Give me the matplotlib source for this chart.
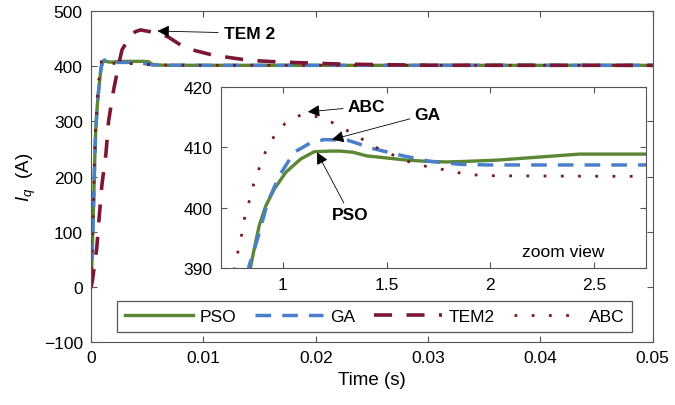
import numpy as np
import matplotlib.pyplot as plt

plt.rcParams['font.family'] = ['Liberation Sans', 'DejaVu Sans']
plt.rcParams['mathtext.fontset'] = 'custom'
plt.rcParams['mathtext.it'] = 'Liberation Sans:italic'
plt.rcParams['mathtext.rm'] = 'Liberation Sans'

# time in ms, current in A
t_pso = [0, 0.1, 0.2, 0.3, 0.4, 0.55, 0.7, 0.845, 0.861, 0.885, 0.917, 0.958, 1.014,
         1.086, 1.151, 1.231, 1.275, 1.339, 1.404, 1.516, 1.597, 1.694, 1.79, 1.887,
         2.032, 2.43, 2.76, 3.5, 4.5, 5.1, 5.5, 6.5, 10, 20, 50]
i_pso = [0, 65, 135, 215, 280, 330, 363, 390.4, 393.1, 397.0, 400.3, 403.1, 405.9,
         408.1, 409.3, 409.4, 409.4, 409.2, 408.6, 408.2, 407.9, 407.7, 407.6, 407.7,
         407.9, 408.9, 408.9, 409, 409, 408.5, 403, 402, 401.8, 401.8, 401.8]

t_ga = [0, 0.1, 0.2, 0.3, 0.4, 0.55, 0.7, 0.837, 0.877, 0.926, 0.982, 1.054, 1.135,
        1.2, 1.312, 1.436, 1.581, 1.71, 1.855, 1.99, 2.76, 3.5, 4.5, 5.0, 5.5, 6.5, 10, 50]
i_ga = [0, 65, 135, 215, 280, 330, 363, 390.4, 394.8, 400.9, 405.3, 409.2, 410.8,
        411.3, 411.2, 409.8, 408.6, 407.7, 407.2, 407.1, 407.1, 407, 406, 404, 402.5, 402,
        401.8, 401.8]

t_tem2 = [0, 0.12, 0.5, 0.72, 0.96, 1.32, 1.55, 2.0, 2.45, 2.75, 3.5, 3.95, 4.4, 5.2,
          6.8, 8.4, 10.9, 14, 16.6, 22.3, 30, 50]
i_tem2 = [0, 12, 70, 127, 185, 242, 300, 357, 403, 430, 455, 463, 466, 463,
          454, 433, 420, 411, 408, 404, 402, 401.8]

t_abc = [0, 0.1, 0.2, 0.3, 0.4, 0.55, 0.68, 0.768, 0.784, 0.801, 0.816, 0.839, 0.859,
         0.887, 0.917, 0.958, 1.011, 1.086, 1.167, 1.247, 1.32, 1.391, 1.465, 1.541,
         1.616, 1.698, 1.781, 1.862, 1.942, 2.028, 2.76, 3.5, 4.5, 6, 10, 50]
i_abc = [0, 70, 145, 225, 290, 345, 374, 390.1, 392.9, 395.6, 398.5, 401.3, 404.0,
         406.7, 409.4, 411.9, 414.0, 415.4, 415.1, 414.0, 412.6, 411.2, 409.7, 408.6,
         407.5, 406.8, 406.3, 405.7, 405.4, 405.3, 405.2, 405, 404, 402.5, 401.8, 401.8]

xticks_main = [0, 0.01, 0.02, 0.03, 0.04, 0.05]
xlabels_main = ['0', '0.01', '0.02', '0.03', '0.04', '0.05']
yticks_main = [-100, 0, 100, 200, 300, 400, 500]
xticks_zoom = [1, 1.5, 2, 2.5]
xlabels_zoom = ['1', '1.5', '2', '2.5']
yticks_zoom = [390, 400, 410, 420]

c_pso = '#5b8633'
c_ga = '#4a7fc9'
c_tem2 = '#7d1636'
c_abc = '#7a1b1b'
spine_c = '#555555'

sty_pso = dict(color=c_pso, lw=2.4, ls='-')
sty_ga = dict(color=c_ga, lw=2.5, ls=(0, (4.5, 3.2)))
sty_tem2 = dict(color=c_tem2, lw=2.6, ls=(0, (5, 4)))
sty_abc = dict(color=c_abc, lw=2.0, ls=(0, (1, 5.2)))

fig = plt.figure(figsize=(6.75, 4.06), dpi=100)
ax = fig.add_axes([0.135, 0.155, 0.832, 0.815])

s = lambda t: np.array(t) / 1000.0
ax.plot(s(t_pso), i_pso, label='PSO', **sty_pso)
ax.plot(s(t_ga), i_ga, label='GA', **sty_ga)
ax.plot(s(t_tem2), i_tem2, label='TEM2', **sty_tem2)
ax.plot(s(t_abc), i_abc, label='ABC', **sty_abc)

ax.set_xlim(0, 0.05)
ax.set_ylim(-100, 500)
ax.set_xticks(xticks_main)
ax.set_xticklabels(xlabels_main)
ax.set_yticks(yticks_main)
ax.tick_params(direction='in', top=True, right=True, length=4, labelsize=12.5,
               color=spine_c, pad=6)
for sp in ax.spines.values():
    sp.set_color(spine_c)
ax.set_xlabel('Time (s)', fontsize=13.5, labelpad=4)
ax.set_ylabel('$I_q$  (A)', fontsize=13.5, labelpad=4)

ax.annotate('TEM 2', xy=(0.0059, 464), xytext=(0.0118, 460), fontsize=12.5,
            fontweight='bold', ha='left', va='center',
            arrowprops=dict(arrowstyle='-|>', color='k', lw=0.6, mutation_scale=18,
                            shrinkA=2, shrinkB=0))

leg = ax.legend(loc='center', bbox_to_anchor=(0.505, 0.077), ncol=4, fontsize=12.5,
                handlelength=3.9, handletextpad=0.4, columnspacing=1.1,
                frameon=True, fancybox=False, framealpha=1, borderpad=0.45)
leg.get_frame().set_edgecolor(spine_c)
leg.get_frame().set_linewidth(0.9)

# zoom view inset
axi = fig.add_axes([0.327, 0.337, 0.630, 0.446])
axi.plot(t_pso, i_pso, **sty_pso)
axi.plot(t_ga, i_ga, **sty_ga)
axi.plot(t_abc, i_abc, **sty_abc)
axi.set_xlim(0.7, 2.75)
axi.set_ylim(390, 420)
axi.set_xticks(xticks_zoom)
axi.set_xticklabels(xlabels_zoom)
axi.set_yticks(yticks_zoom)
axi.tick_params(direction='in', top=True, right=True, length=4, labelsize=12.5,
                color=spine_c, pad=6)
for sp in axi.spines.values():
    sp.set_color(spine_c)

arr = dict(arrowstyle='-|>', color='k', lw=0.6, mutation_scale=18, shrinkA=1, shrinkB=0)
axi.annotate('ABC', xy=(1.12, 415.9), xytext=(1.31, 416.8), fontsize=12.5,
             fontweight='bold', ha='left', va='center', arrowprops=arr)
axi.annotate('GA', xy=(1.236, 411.3), xytext=(1.632, 415.5), fontsize=12.5,
             fontweight='bold', ha='left', va='center', arrowprops=arr)
axi.annotate('PSO', xy=(1.164, 409.2), xytext=(1.323, 398.9), fontsize=12.5,
             fontweight='bold', ha='center', va='center', arrowprops=arr)
axi.text(2.35, 392.8, 'zoom view', fontsize=12.5, ha='center', va='center')

fig.savefig('out.png', dpi=100)
